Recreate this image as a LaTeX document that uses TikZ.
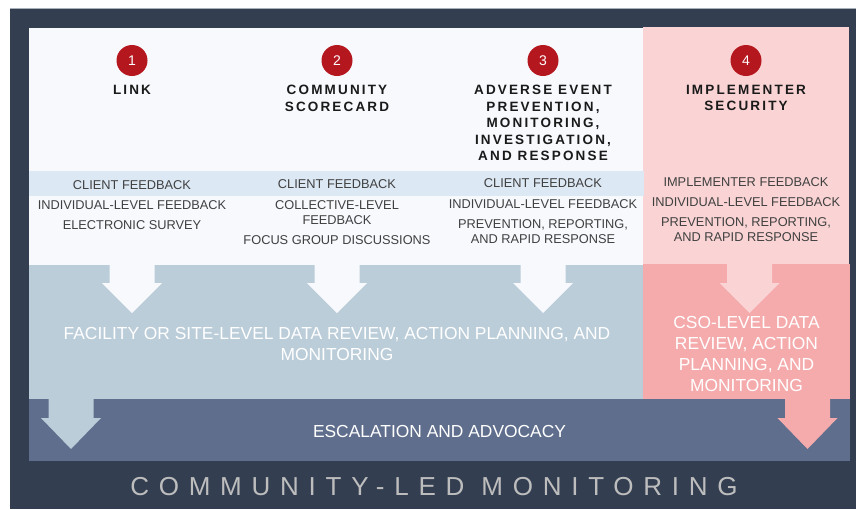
\documentclass[tikz,border=0pt]{standalone}
\usepackage{xcolor}
\usepackage{tikz}
\usepackage{fontspec}
\setmainfont{Liberation Sans}
\newfontfamily\headfont[LetterSpace=16]{Liberation Sans}
\newfontfamily\bannerfont[LetterSpace=37.5]{Liberation Sans}
\definecolor{navy}{HTML}{333E51}
\definecolor{rulegray}{HTML}{A9B0BA}
\definecolor{panel}{HTML}{F7F9FD}
\definecolor{band}{HTML}{DCE8F4}
\definecolor{steel}{HTML}{BBCDD9}
\definecolor{slate}{HTML}{5F6E8C}
\definecolor{blush}{HTML}{FAD4D4}
\definecolor{rose}{HTML}{F5AAAC}
\definecolor{numred}{HTML}{B5171F}
\definecolor{ink}{HTML}{1A1A1A}
\definecolor{itemgray}{HTML}{404040}
\definecolor{bannergray}{HTML}{BDBDBD}

\begin{document}
\begin{tikzpicture}[x=1pt,y=-1pt,
  head/.style={anchor=north, inner sep=0, align=center, text=ink, font=\headfont\bfseries\fontsize{13.5}{16.5}\selectfont},
  item/.style={anchor=north, inner sep=0, align=center, text=itemgray, font=\fontsize{12.8}{15}\selectfont},
  badge/.style={circle, fill=numred, minimum size=31pt, inner sep=0, text=white, font=\fontsize{14}{16}\selectfont},
  stage/.style={anchor=north, inner sep=0, align=center, text=white, font=\fontsize{17.4}{21}\selectfont}]
\useasboundingbox (0,0) rectangle (856,509);
\fill[white] (0,0) rectangle (856,509);
\fill[rulegray] (10,7.5) rectangle (856,9);
\fill[navy] (10,9) rectangle (856,509);
% panels
\fill[panel] (29,28) rectangle (643,265);
\fill[blush] (643,27) rectangle (849,265);
\fill[band] (29,171) rectangle (644,196);
\fill[steel] (29,265) rectangle (643,399);
\fill[rose] (643,264) rectangle (850,399);
\fill[slate] (29,399) rectangle (850,461);
% block arrows
\foreach \x in {132,337,543}
  \fill[panel] (\x-22.5,263) -- (\x+22.5,263) -- (\x+22.5,283) -- (\x+30,283) -- (\x,313) -- (\x-30,283) -- (\x-22.5,283) -- cycle;
\fill[blush] (727,263) -- (772,263) -- (772,283) -- (779.5,283) -- (749.5,313) -- (719.5,283) -- (727,283) -- cycle;
\fill[steel] (48.5,398) -- (93.5,398) -- (93.5,418) -- (101,418) -- (71,449) -- (41,418) -- (48.5,418) -- cycle;
\fill[rose] (785,398) -- (830,398) -- (830,418) -- (837.5,418) -- (807.5,449) -- (777.5,418) -- (785,418) -- cycle;
% numbers and headings
\node[badge] (n1) at (132,60.5) {1};
\node[badge] (n2) at (337,60.5) {2};
\node[badge] (n3) at (543,60.5) {3};
\node[badge] (n4) at (746,60.5) {4};
\node[head] (link) at (132,85) {LINK};
\node[head] (scorecard) at (337,85) {COMMUNITY\\SCORECARD};
\node[head] (adverse) at (543,85) {ADVERSE EVENT\\PREVENTION,\\MONITORING,\\INVESTIGATION,\\AND RESPONSE};
\node[head] (security) at (746,85) {IMPLEMENTER\\SECURITY};
% feedback items
\node[item] (c1a) at (132,180) {CLIENT FEEDBACK};
\node[item] (c1b) at (132,200) {INDIVIDUAL-LEVEL FEEDBACK};
\node[item] (c1c) at (132,220) {ELECTRONIC SURVEY};
\node[item] (c2a) at (337,179) {CLIENT FEEDBACK};
\node[item] (c2b) at (337,200) {COLLECTIVE-LEVEL\\FEEDBACK};
\node[item] (c2c) at (337,235) {FOCUS GROUP DISCUSSIONS};
\node[item] (c3a) at (543,178) {CLIENT FEEDBACK};
\node[item] (c3b) at (543,199) {INDIVIDUAL-LEVEL FEEDBACK};
\node[item] (c3c) at (543,219) {PREVENTION, REPORTING,\\AND RAPID RESPONSE};
\node[item] (c4a) at (746,177) {IMPLEMENTER FEEDBACK};
\node[item] (c4b) at (746,197) {INDIVIDUAL-LEVEL FEEDBACK};
\node[item] (c4c) at (746,217) {PREVENTION, REPORTING,\\AND RAPID RESPONSE};
% review levels
\node[stage] (site) at (337,327) {FACILITY OR SITE-LEVEL DATA REVIEW, ACTION PLANNING, AND\\MONITORING};
\node[stage] (cso) at (746.5,316) {CSO-LEVEL DATA\\REVIEW, ACTION\\PLANNING, AND\\MONITORING};
\node[stage] (escalation) at (439.5,425) {ESCALATION AND ADVOCACY};
\node[anchor=north, inner sep=0, text=bannergray, font=\bannerfont\fontsize{26}{30}\selectfont] (banner) at (434,477) {COMMUNITY-LED MONITORING};
\end{tikzpicture}
\end{document}
